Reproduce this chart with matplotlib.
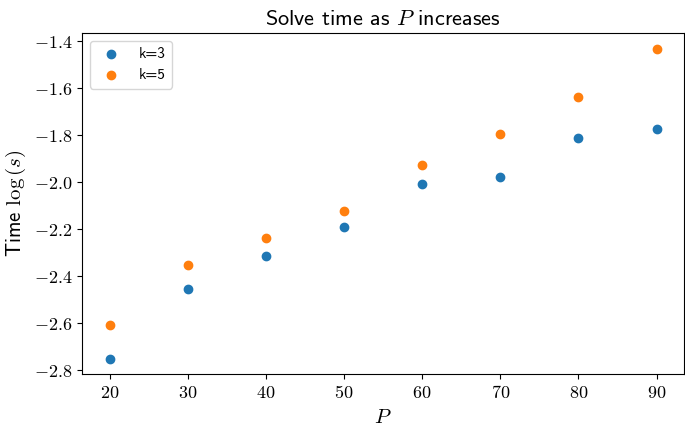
import matplotlib
matplotlib.use("Agg")
import matplotlib.pyplot as plt
from matplotlib.ticker import FuncFormatter

plt.rcParams["mathtext.fontset"] = "cm"

P = [20, 30, 40, 50, 60, 70, 80, 90]
k3 = [-2.753, -2.458, -2.316, -2.190, -2.007, -1.980, -1.814, -1.774]
k5 = [-2.609, -2.354, -2.240, -2.123, -1.926, -1.794, -1.637, -1.431]

fig = plt.figure(figsize=(6.85, 4.29), dpi=100)
ax = fig.add_axes([0.12, 0.128, 0.8785, 0.795])

ax.scatter(P, k3, label="k=3")
ax.scatter(P, k5, label="k=5")

ax.xaxis.set_major_formatter(FuncFormatter(lambda v, pos: r"$%d$" % v))
ax.yaxis.set_major_formatter(FuncFormatter(lambda v, pos: r"$%.1f$" % v))
ax.tick_params(labelsize=13)

ax.set_title(r"Solve time as $P$ increases", fontsize=16, family="cmss10")
ax.set_xlabel(r"$P$", fontsize=15)
ax.set_ylabel(r"Time $\log{(s)}$", fontsize=15, family="cmss10")
ax.legend(loc="upper left", prop={"family": "cmss10", "size": 11})

fig.savefig("out.png", dpi=100)
